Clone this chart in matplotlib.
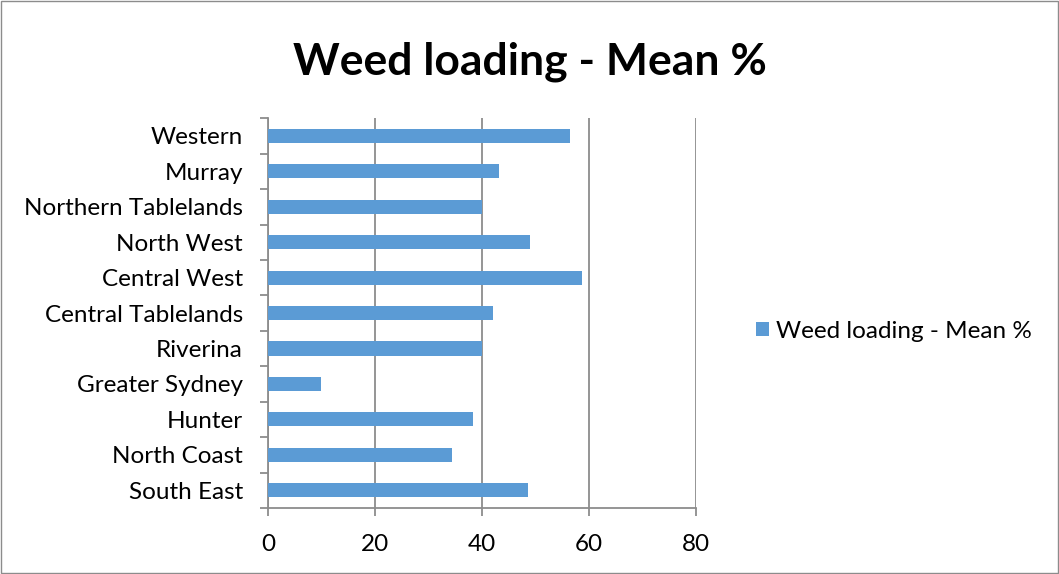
import numpy as np
import matplotlib
matplotlib.use("Agg")
import matplotlib.pyplot as plt
from matplotlib.patches import Rectangle

# Data (bottom to top as drawn)
regions = ["South East", "North Coast", "Hunter", "Greater Sydney", "Riverina",
           "Central Tablelands", "Central West", "North West",
           "Northern Tablelands", "Murray", "Western"]
mean_pct = [48.6, 34.5, 38.4, 10.0, 40.1, 42.0, 58.8, 49.0, 40.0, 43.3, 56.4]
x_ticks = [0, 20, 40, 60, 80]

plt.rcParams['font.family'] = ['Lato', 'DejaVu Sans']

fig = plt.figure(figsize=(10.59, 5.74), dpi=100)
ax = fig.add_axes([0.253, 0.115, 0.404, 0.679])

y = np.arange(len(regions))
ax.barh(y, mean_pct, height=0.4, color="#5b9bd5", label="Weed loading - Mean %",
        zorder=3)

ax.set_xlim(0, 80)
ax.set_ylim(-0.5, len(regions) - 0.5)
ax.set_xticks(x_ticks)
ax.set_yticks(y)
ax.set_yticklabels(regions)
ax.set_yticks(np.arange(-0.5, len(regions), 1.0), minor=True)

grid_col = "#8c8c8c"
ax.grid(axis="x", color=grid_col, linewidth=1.3, zorder=0)
for side in ["top", "right"]:
    ax.spines[side].set_visible(False)
ax.spines["left"].set_color(grid_col)
ax.spines["bottom"].set_color(grid_col)
ax.spines["left"].set_linewidth(1.3)
ax.spines["bottom"].set_linewidth(1.3)

ax.tick_params(axis="y", which="major", length=0, pad=18, labelsize=17.5)
ax.tick_params(axis="y", which="minor", length=6, color=grid_col, width=1.3)
ax.tick_params(axis="x", which="major", length=6, color=grid_col, width=1.3,
               labelsize=17.5, pad=13)

fig.suptitle("Weed loading - Mean %", fontsize=32, fontweight="bold",
             y=0.893, va="center")

fig.legend(loc="center left", bbox_to_anchor=(0.693, 0.423), frameon=False,
           fontsize=17.5, handlelength=0.55, handleheight=0.55, handletextpad=0.3)

# thin border round the chart
fig.patches.append(Rectangle((0.001, 0.001), 0.998, 0.998, transform=fig.transFigure,
                             fill=False, edgecolor="#8c8c8c", linewidth=1.0))

fig.savefig("out.png", dpi=100)
